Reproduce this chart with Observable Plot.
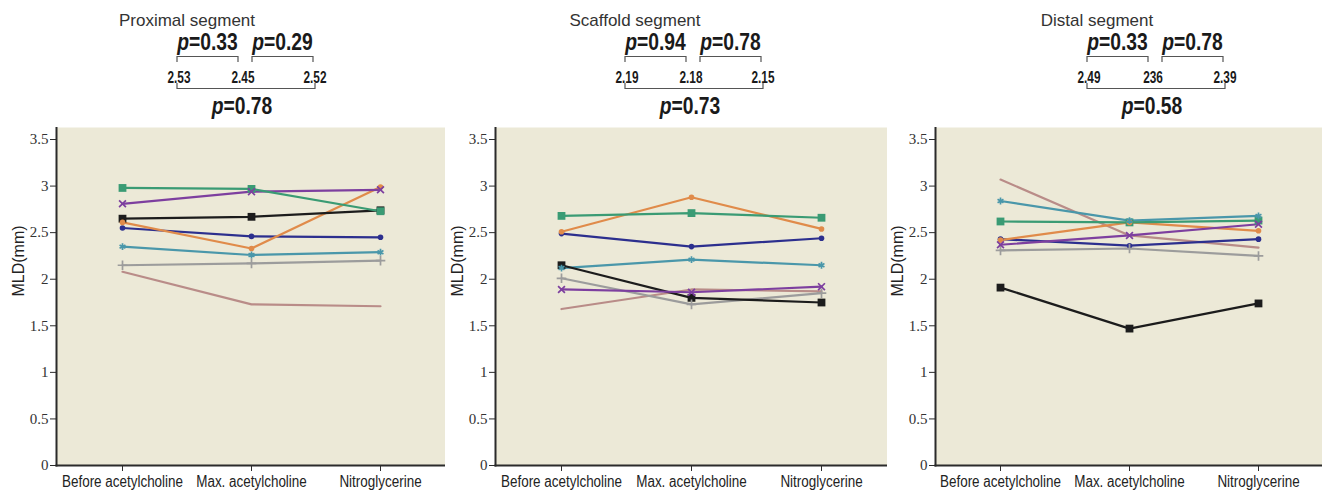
<!DOCTYPE html>
<html>
<head>
<meta charset="utf-8">
<script src="https://cdn.jsdelivr.net/npm/d3@7"></script>
<script src="https://cdn.jsdelivr.net/npm/@observablehq/plot@0.6"></script>
<style>
  html, body { margin: 0; padding: 0; background: #fff; }
  #wrap { display: flex; width: 1322px; height: 496px; }
  .panel { display: flex; flex-direction: column; }
  .panel svg { display: block; }
</style>
</head>
<body>
<div id="wrap"></div>
<script>
// ---------- data ----------
const stages = ["Before acetylcholine", "Max. acetylcholine", "Nitroglycerine"];
const patients = ["P1", "P2", "P3", "P4", "P5", "P6", "P7", "P8"];
const patientColors = ["#b98c88", "#9c9c9c", "#4a97aa", "#2c2f8e", "#e08b4a", "#1c1c1c", "#7d3f9f", "#3a9b74"];
const patientSymbols = [null, "plus", "asterisk", "circle", "circle", "square", "times", "square"];

const segmentTitles = ["Proximal segment", "Scaffold segment", "Distal segment"];

// MLD (mm) per patient: [before, max acetylcholine, nitroglycerine]
const proximalMLD = [
  [2.08, 1.73, 1.71],
  [2.15, 2.17, 2.20],
  [2.35, 2.26, 2.29],
  [2.55, 2.46, 2.45],
  [2.61, 2.33, 2.99],
  [2.65, 2.67, 2.74],
  [2.81, 2.94, 2.96],
  [2.98, 2.97, 2.73]
];
const scaffoldMLD = [
  [1.68, 1.89, 1.87],
  [2.01, 1.73, 1.85],
  [2.12, 2.21, 2.15],
  [2.49, 2.35, 2.44],
  [2.51, 2.88, 2.54],
  [2.15, 1.80, 1.75],
  [1.89, 1.86, 1.92],
  [2.68, 2.71, 2.66]
];
const distalMLD = [
  [3.07, 2.47, 2.34],
  [2.31, 2.33, 2.25],
  [2.84, 2.63, 2.68],
  [2.43, 2.36, 2.43],
  [2.42, 2.61, 2.52],
  [1.91, 1.47, 1.74],
  [2.37, 2.47, 2.59],
  [2.62, 2.61, 2.63]
];

const meanLabels = [["2.53", "2.45", "2.52"], ["2.19", "2.18", "2.15"], ["2.49", "236", "2.39"]];
const pFirst = ["0.33", "0.94", "0.33"];
const pSecond = ["0.29", "0.78", "0.78"];
const pOverall = ["0.78", "0.73", "0.58"];

const yTicks = [0, 0.5, 1, 1.5, 2, 2.5, 3, 3.5];
const yLabel = "MLD(mm)";

// ---------- layout ----------
const panelWidths = [445, 442, 435];
const panelMarginLeft = [56, 50, 48];
const headerCenter = [245, 248, 268];
const headerHeight = 127;
const plotHeight = 369;
const BG = "#ece9d7";
const INK = "#2b2b2b";
const SANS = "'Liberation Sans', Arial, sans-serif";
const SERIF = "'Liberation Serif', 'Times New Roman', serif";

const segments = [proximalMLD, scaffoldMLD, distalMLD];

// condensed text: a group that is translated then squeezed horizontally
function narrowText(parent, x, y, size, sx, weight) {
  const g = parent.append("g").attr("transform", `translate(${x},${y}) scale(${sx},1)`);
  return g.append("text").attr("text-anchor", "middle").attr("font-family", SANS)
    .attr("font-size", size).attr("font-weight", weight).attr("fill", "#1a1a1a");
}

function makeHeader(i) {
  const w = panelWidths[i];
  const C = headerCenter[i];
  const svg = d3.create("svg").attr("width", w).attr("height", headerHeight);
  svg.append("text").attr("x", C - 58).attr("y", 26)
    .attr("text-anchor", "middle").attr("font-family", SANS).attr("font-size", 17)
    .attr("fill", "#333").text(segmentTitles[i]);

  const pText = (x, y, val) => {
    const t = narrowText(svg, x, y, 23, 0.84, "bold");
    t.append("tspan").attr("font-style", "italic").text("p");
    t.append("tspan").text("=" + val);
  };
  const W = 68, g = 7;
  pText(C - (W + g) / 2, 50, pFirst[i]);
  pText(C + (W + g) / 2, 50, pSecond[i]);
  pText(C - 3, 114, pOverall[i]);

  const br = svg.append("g").attr("fill", "none").attr("stroke", "#555").attr("stroke-width", 1.2);
  br.append("path").attr("d", `M${C - W},62V56.5H${C - g}V62`);
  br.append("path").attr("d", `M${C + g},62V56.5H${C + W}V62`);
  br.append("path").attr("d", `M${C - W},83V88.5H${C + W + 2}V83`);

  const nx = [C - 66, C - 2, C + 70];
  meanLabels[i].forEach((lab, k) => {
    narrowText(svg, nx[k], 83, 16, 0.74, "bold").text(lab);
  });
  return svg.node();
}

function makePlot(i) {
  const rows = [];
  segments[i].forEach((vals, p) => {
    vals.forEach((v, s) => rows.push({patient: patients[p], stage: stages[s], mld: v, sym: patientSymbols[p]}));
  });
  return Plot.plot({
    width: panelWidths[i],
    height: plotHeight,
    marginTop: 0,
    marginBottom: 31,
    marginLeft: panelMarginLeft[i],
    marginRight: 0,
    style: {fontFamily: SANS, color: INK, background: "transparent"},
    x: {type: "point", domain: stages, padding: 0.5, axis: null},
    y: {domain: [0, 3.629], axis: null},
    color: {domain: patients, range: patientColors},
    symbol: {domain: patients, range: patientSymbols.map(s => s || "circle")},
    marks: [
      Plot.frame({fill: BG, stroke: null}),
      Plot.line(rows, {x: "stage", y: "mld", z: "patient", stroke: "patient", strokeWidth: 2.2}),
      Plot.dot(rows.filter(d => d.sym === "square"), {x: "stage", y: "mld", symbol: "patient", fill: "patient", r: 4.4}),
      Plot.dot(rows.filter(d => d.sym === "circle"), {x: "stage", y: "mld", symbol: "patient", fill: "patient", r: 2.8}),
      Plot.dot(rows.filter(d => d.sym && d.sym !== "square" && d.sym !== "circle"), {x: "stage", y: "mld", symbol: "patient", stroke: "patient", r: 3.2, strokeWidth: 1.7}),
      Plot.frame({anchor: "left", stroke: INK, strokeWidth: 2}),
      Plot.frame({anchor: "bottom", stroke: INK, strokeWidth: 2}),
      Plot.axisY({ticks: yTicks, tickFormat: d => String(d), tickSize: 6, tickPadding: 2, label: null,
        fontSize: 15, stroke: INK, fill: "#333"}),
      Plot.axisX({tickSize: 6, tickPadding: 4, label: null, fontSize: 16, fill: "#222"}),
      Plot.text([yLabel], {frameAnchor: "left", rotate: -90, dx: -38, fontSize: 16, fill: "#222"})
    ]
  });
}

const wrap = document.getElementById("wrap");
for (let i = 0; i < 3; i++) {
  const div = document.createElement("div");
  div.className = "panel";
  div.style.width = panelWidths[i] + "px";
  div.appendChild(makeHeader(i));
  const plot = makePlot(i);
  div.appendChild(plot);
  wrap.appendChild(div);
  const s = d3.select(plot);
  s.selectAll('g[aria-label="y-axis tick label"] text').style("font-family", SERIF);
  s.selectAll('g[aria-label="x-axis tick label"] text').each(function () {
    const len = this.getComputedTextLength();
    this.setAttribute("textLength", (len * 0.84).toFixed(1));
    this.setAttribute("lengthAdjust", "spacingAndGlyphs");
  });
}
</script>
</body>
</html>
